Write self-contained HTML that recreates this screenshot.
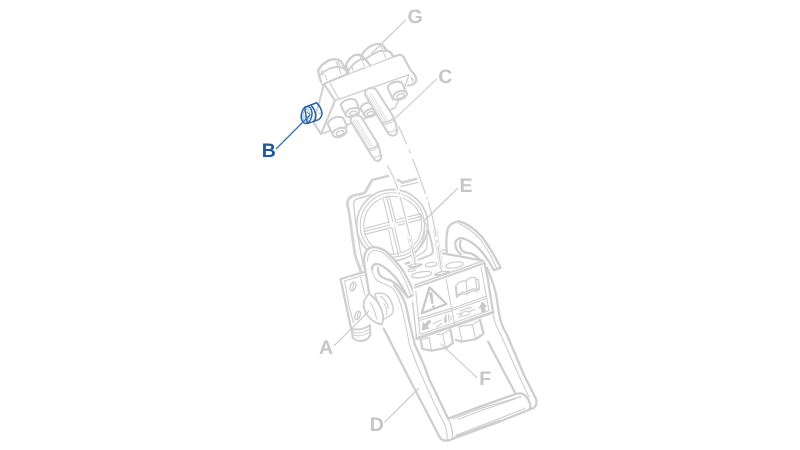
<!DOCTYPE html>
<html>
<head>
<meta charset="utf-8">
<title>Diagram</title>
<style>
html,body{margin:0;padding:0;background:#fff;}
body{width:800px;height:450px;overflow:hidden;}
svg{display:block;will-change:transform;}
text{text-rendering:geometricPrecision;}
.kk{fill:none;stroke:#d4d4d4;stroke-width:2.8;stroke-linecap:round;stroke-linejoin:round;}
.k{fill:none;stroke:#cecece;stroke-width:2.25;stroke-linecap:round;stroke-linejoin:round;}
.n{fill:none;stroke:#d0d0d0;stroke-width:2.05;stroke-linecap:round;stroke-linejoin:round;}
.m{fill:none;stroke:#cfcfcf;stroke-width:1.4;stroke-linecap:round;stroke-linejoin:round;}
.t{fill:none;stroke:#cecece;stroke-width:1.1;stroke-linecap:round;stroke-linejoin:round;}
.w{fill:#fff;}
.ld{fill:none;stroke:#cbcbcb;stroke-width:1.15;}
.dd{fill:none;stroke:#cecece;stroke-width:1.15;stroke-dasharray:22 3.5 2 3.5;}
.g{fill:#c8c8c8;stroke:none;}
.b{fill:none;stroke:#1f64a8;stroke-width:1.5;stroke-linecap:round;stroke-linejoin:round;}
.bt{fill:none;stroke:#1f64a8;stroke-width:0.8;stroke-linecap:round;}
text{font-family:"Liberation Sans",Arial,sans-serif;font-weight:bold;font-size:19.5px;fill:#c6c6c6;}
text.bl{fill:#1b5a9e;}
</style>
</head>
<body>
<svg width="800" height="450" viewBox="0 0 800 450">
<rect width="800" height="450" fill="#fff"/>

<!-- ===== MANIFOLD BLOCK ===== -->
<g id="block">
<path class="n" d="M324,84 L313.6,122.6 L321,134 L335,100.6 Z"/>
<path class="t" d="M330,83 L338.6,98.6"/>
<path class="k" d="M322,84.4 L350,73 L393,56.6 L399,55 Q402,54.6 403.4,56.8 L410,69 L412,72 Q415.6,74.6 416.4,80 Q416,84.4 408,85.6"/>
<path class="m" d="M335,100.6 L409,74.6 L404.6,87.6 L395,108 L321,134"/>
<path class="t" d="M410.6,77 L412.6,80.6 M412,78 Q413.6,79 413,81.6"/>
</g>

<!-- G cylinders (domed hex fittings) -->
<g id="gcyl">
<!-- cyl 3 -->
<path class="w" d="M362,54 Q366,46 376,44 Q382.6,43.4 385,48 L388,51.6 L391,52.6 L393,56.6 L364,68 Z"/>
<path class="k" d="M362,54.6 Q366,47 376,44 Q382.4,43 385,48 Q387,51.4 391,52.6 L393,56.6"/>
<path class="n" d="M364,60 Q370,55.6 379,51.2 Q383,50.4 386.6,51"/>
<path class="t" d="M380.6,45.6 L383,51 M382.6,45 L385,50.4 M383.6,52.6 L385.6,57.6"/>
<!-- cyl 2 -->
<path class="w" d="M345.6,65 Q348,58.6 354,55.4 Q360,53.6 363,57 L370,64.6 L349,73.6 Z"/>
<path class="k" d="M345.8,65.6 Q348,58.8 354,55.4 Q360,53.4 363,57 Q366,60 370,65"/>
<path class="n" d="M349,70 Q352,64 360,59.6 Q363.6,58.6 366.6,60.6"/>
<path class="t" d="M359.6,55.6 L362,60.6 M361.4,55 L363.8,60 M362.6,62 L364.4,66.6 M351.6,66.6 L353.6,71"/>
<path class="k" d="M345.8,65.6 L348.6,73.4"/>
<!-- cyl 1 -->
<path class="w" d="M318,71 Q321,64 329,60.4 Q337,57.6 341,61.4 Q343,64 347,72.6 L321.6,84 Z"/>
<path class="k" d="M321,82 L318,71 Q321,64 329,60.4 Q337,57.6 341,61.4 Q343.6,65 347,72.6"/>
<path class="n" d="M321,74.4 Q325,70 333,67.4 Q340,66 345,69"/>
<path class="t" d="M336,62 L338.4,67 M337.8,61.4 L340.2,66.4 M339,68.6 L341,74 M321.6,70 L323,75 M325,75 L327,80"/>
</g>

<!-- small cylinders on front face -->
<g id="scyl">
<!-- S3 -->
<path class="n w" d="M387.6,87.4 Q389.6,82.6 397,81.6 Q402,81.6 402.6,84 L406.6,94 L393,99.6 Z"/>
<g transform="rotate(-20 400 95.4)"><ellipse class="n w" cx="400" cy="95.4" rx="7.2" ry="4.2"/><ellipse class="m" cx="400.3" cy="96.2" rx="4" ry="2.1"/></g>
<!-- S2 -->
<path class="n w" d="M360.6,108 Q362,103.6 368,102.4 Q374,102.4 375,105 L377,111 L365,116.6 Z"/>
<g transform="rotate(-20 370 113)"><ellipse class="n w" cx="370" cy="113" rx="6" ry="3.7"/><ellipse class="m" cx="370.3" cy="113.7" rx="3.3" ry="1.8"/></g>
<!-- S1 -->
<path class="n w" d="M340.6,105 Q342.4,100.4 350,99 Q355.6,98.8 356.2,101.2 L359.6,110 L345.6,115 Z"/>
<g transform="rotate(-20 352.6 112.6)"><ellipse class="n w" cx="352.6" cy="112.6" rx="7.2" ry="4.2"/><ellipse class="m" cx="352.9" cy="113.4" rx="3.8" ry="2"/></g>
<!-- S4 -->
<path class="n w" d="M327.6,124 Q329.6,118.6 337,116.8 Q343,116.4 343.8,119.2 L347,126.4 L332.6,134 Z"/>
<g transform="rotate(-20 339.6 132.4)"><ellipse class="n w" cx="339.6" cy="132.4" rx="7.4" ry="4.3"/><ellipse class="m" cx="339.9" cy="133.2" rx="4" ry="2.1"/></g>
</g>

<!-- pins -->
<g id="pins">
<!-- pin 2 (right, big) -->
<path class="n w" d="M365,94.6 Q364.6,90 369,88.4 Q374,87.2 376.4,90 L394,117.6 Q396,123 397.2,131 Q396.8,135.4 392.8,135.8 Q389.6,135.4 388.4,133.4 L381.4,122.4 Z"/>
<path class="m" d="M381.4,122.4 Q389,123 394,117.6"/>
<path class="t" d="M382.4,124.2 Q389.6,124.8 394.6,119.6"/>
<path class="t" d="M387.8,131.8 Q393,132.6 396.8,128.8"/>
<path class="t" style="stroke-width:0.8;stroke:#d6d6d6" d="M367.2,95 L383.6,121.6 M369.2,94.2 L385.4,120.8 M371.2,93.4 L387,120"/>
<g transform="translate(0.8,-0.2)">
<!-- pin 1 (left) -->
<path class="n w" d="M349.6,121 Q349.6,117 354,115.8 Q358.6,115 360.2,117 L377,144 Q379,150 380.4,157 Q380,160.8 376.8,161.2 Q374.4,161 373.4,159.4 L366.6,149 Z"/>
<path class="m" d="M366.6,149 Q373,150 377,144"/>
<path class="t" d="M367.4,150.8 Q373.6,151.8 377.6,146"/>
<path class="t" d="M372.8,157.6 Q377,158 380,154.8"/>
<path class="t" style="stroke-width:0.8;stroke:#d6d6d6" d="M351.8,121 L367.8,147.6 M353.8,120.4 L369.8,147 M355.6,119.6 L371.6,146.2"/>
</g>
</g>

<!-- ===== E BRACKET ===== -->
<g id="ebracket">
<path class="kk" d="M361,272 L358.6,265 L355,255 L349,212 L347.4,205 Q347,198 353,195.6 L363.6,193.4 Q365,193 365.8,191.4 L372,180 L388,176"/>
<path class="kk" d="M398,180 L402.4,182.6 L416,179"/>
<path class="m" d="M401,186.4 L418,182.4"/>
<path class="m" d="M363.6,267 L360.6,252 L356,225 L353.6,204 Q353.6,200.6 356.6,199 L371,195"/>
<circle class="m" style="stroke-width:1.6" cx="392.3" cy="225" r="35.6"/>
<circle class="t" cx="392.4" cy="225" r="32.2"/>
<circle class="t" cx="392.7" cy="225.2" r="29"/>
<!-- cross -->
<path class="t" d="M365,228.6 L389,222 M364,231.6 L390,225 M364.4,234.6 L391,227.6"/>
<path class="t" d="M396,220 L420.6,213.6 M397,222.8 L421,216.4 M398,225.4 L421.4,219.4"/>
<path class="t" d="M383.4,199.4 L389,223 M386.4,196 L393,222 M389,195.6 L396,223"/>
<path class="t" d="M388.6,230 L394,255 M392,228 L398.6,255.6 M394.6,227 L400.4,252"/>
<!-- depth arcs at right / bottom right -->
<path class="m" d="M424.6,229 Q425,244 412,256"/>
<path class="t" d="M426.6,231 Q427.6,243 426.6,248.6 Q424,253 416,256.6"/>
<path class="n" d="M428,229.6 Q432,243 433,250.4 Q433.2,254 429,255.6 L419,259.6"/>
<path class="t" d="M420.6,214 Q426,224 428,229.6"/>
</g>

<!-- ===== BOX TOP & HOLES ===== -->
<g id="boxtop">
<path class="k" d="M443,253.4 L483,260.6"/>
<path class="t" d="M441.6,251 Q443,249 446,250.6"/>
<path class="k" d="M408.6,266.2 Q414,268.6 421.6,264.6" />
<path class="t" d="M408.6,266 Q413,262.6 421.4,264.4"/>
<ellipse class="t" cx="431" cy="264.6" rx="5.8" ry="2.1" transform="rotate(-8 431 264.6)"/>
<ellipse class="t" cx="454.4" cy="265" rx="9" ry="2.8" transform="rotate(-9 454.4 265)"/>
<ellipse class="t" cx="421.6" cy="274.6" rx="10" ry="2.8" transform="rotate(-9 421.6 274.6)"/>
<path class="k" d="M435,274.6 Q441,276.6 448.6,271.6"/>
<path class="t" d="M435,274.4 Q439,271 448.4,271.4"/>
<ellipse class="t" cx="411.6" cy="270.2" rx="3.6" ry="1.3" transform="rotate(-9 411.6 270.2)"/>
<path class="k" d="M405.6,263.6 L409.6,262.4"/>
</g>

<!-- dash-dot guide lines -->
<path d="M401,131 C407,144 412,157 418,173 C423,187 429,203 432,215 C433.4,221 434.6,227 435.6,233" fill="none" stroke="#fff" stroke-width="3.4"/>
<path d="M389,168 C396,182 400,196 404,210 C408,226 411,242 413,254" fill="none" stroke="#fff" stroke-width="3.4"/>
<path d="M435,229 C436.6,238 438.6,252 441,268" fill="none" stroke="#dedede" stroke-width="4.4"/>
<path d="M435,229 C436.6,238 438.6,252 441.2,269.4" fill="none" stroke="#fff" stroke-width="2.8"/>
<path d="M409.4,236 C411,244 412.6,252 414.6,261.4" fill="none" stroke="#dedede" stroke-width="4.4"/>
<path d="M409.4,236 C411,244 412.6,252 414.8,262.6" fill="none" stroke="#fff" stroke-width="2.8"/>
<path class="dd" style="stroke-dasharray:20 5.5 4.5 5.5 38 2.5 3 2.5 36 3 3 3 60" d="M398.5,126 C407,144 412,157 418,173 C423,187 429,203 432,215 C435,228 438.6,250 441.6,272"/>
<path class="dd" style="stroke-dasharray:26.5 2.5 2.5 2.5 40 3 3 3 60" d="M387.5,165.5 C394,177 398,188 400,197 C404,210 409,232 412,248 C413.4,254 414.6,260 415.6,265"/>

<!-- ===== PLATE A (left bracket plate) ===== -->
<g id="plateA">
<path class="k" d="M364,272 L340.6,279 L345,300 L351,328"/>
<path class="t" d="M364,275 L344.6,281 L349,306 L353.6,323"/>
<path class="t" d="M360.6,277.6 L365,295"/>
<ellipse class="m" cx="353" cy="286.4" rx="2.6" ry="4.4" transform="rotate(22 353 286.4)"/>
<path class="t" d="M353.6,283.6 L352.6,289"/>
<ellipse class="m" cx="357.6" cy="315.4" rx="2.4" ry="4.4" transform="rotate(22 357.6 315.4)"/>
<path class="t" d="M358.2,312.6 L357.2,318"/>
<!-- nipple below -->
<path class="n w" d="M351.6,329 L352.6,337 Q355,341 361,341 Q368,340.4 370.4,335 L370,325 Q362,331 351.6,329 Z"/>
<path class="t" d="M352,332 Q361,335 370.2,328.6 M352.4,334.8 Q361,338 370.4,331.6"/>
</g>

<!-- ===== RIGHT HOOK ===== -->
<g id="righthook">
<path class="k" d="M447,254 Q445.4,240 447.6,229 Q450,222.6 458.6,221.4 Q469,223 482,237 Q491,248.6 500.6,267.6 L494,270.2 Q487,257 478,247.6 Q470,240.4 462,238.2 Q456.6,238 455.2,243 Q455.4,251 461,254.4"/>
<path class="t" d="M459,223.6 Q470,228.6 480,239 Q488,249 496.6,268"/>
<path class="k" d="M460.6,241 Q458.6,246 462,250.6 Q465.6,253.6 470,253.2 Q475,254.6 480,259.6"/>
</g>

<!-- ===== BOX RIGHT EDGE / RIGHT ARM ===== -->
<g id="rightarm">
<path class="k" d="M487,268 Q491,277 493.6,285 Q496.6,295 497.4,303 Q498.4,312 501,322 Q503,328 507,335 L524,375 L536,399 Q537.6,404.6 534,408 L529,409.8 L500,421.4 L449,440.2"/>
<path class="t" d="M493,315 Q494.6,321 496,325 Q498,330 501,335 L518.6,375 L529,397"/>
<path class="k" d="M488,341.6 L505.6,375 L515.6,393.6"/>
<!-- bar -->
<path class="k" d="M448,418.6 L480,406.6 L515.6,394 Q520,392.4 524,394.4 Q528.6,398 530.4,405 Q530.8,408 529,409.8"/>
<path class="t" d="M453,419 L480,408.6 L521,396.6 M458,419.6 L480,411 L515,399"/>
<path class="t" d="M456,435.2 L500,418.2 L525,408.6 M455,436.8 L500,420"/>
<path class="m" d="M448.6,419 Q451.6,426 452.4,432 Q452.8,437 452,439.6"/>
</g>

<!-- ===== LEFT HOOK / LEFT ARM ===== -->
<g id="lefthook">
<path class="w" d="M369,292 L366,275 L364,262 Q363.6,252 369,248.4 Q375,245 384,250 Q393,257 402,269 Q409,280 414.6,294.6 L408,297.6 L407,310 L410,325 L415,345 L424,365 L429.6,380 L448,418.6 L438,434 L410,380 L383.6,328.6 Z"/>
<path class="k" d="M369,292 L366,275 L364,262 Q363.6,252 369,248.4 Q375,245 384,250 Q393,257 402,269 Q409,280 414.6,294.6 L408,297.6 Q403,287 396,278 Q390,271 384,267 Q378.6,263.6 375,264 Q372,265.6 372,269.6"/>
<path class="k" d="M449,440.2 Q444.6,441.6 441.6,439.4 Q439.4,437.6 438,434 L410,380 L383.6,328.6"/>
<path class="t" d="M367.6,261 Q367,253.6 372,251 Q378,249 386,255 Q394,262 400,271 Q406,281 410.6,295"/>
<path class="k" d="M378,268 Q377.6,273 381,276.4 Q385,279.4 391,280.4 Q397,283.6 401,289 L407,296.6"/>
<path class="t" d="M372,269 Q372.6,277 378,281 Q384,284 391,287 Q395.6,290 398.8,299 Q401.6,306 402.8,312 L405.6,325 L409.6,345 L417,365 L423.6,380 L435,405 L445,425 Q447,431 447.2,436 L447,440"/>
<path class="k" d="M394,285 Q400,291.6 403,298 Q406,305 407,310 L410,325 L415,345 L424,365 L429.6,380 L441.6,405 L448,418.6"/>
</g>

<!-- ===== LABEL PLATE ===== -->
<g id="plate">
<path class="w" d="M413,287 L484.4,261.6 L493,312.4 L416.6,338.6 Z"/>
<path class="kk" style="stroke:#d0d0d0" d="M416.6,338.6 L493,312.4"/>
<path class="m" d="M412.6,302 L416.6,338.6"/>
<path class="t" d="M415.8,291 L420,334.4 L489,310.6 L481,267"/>
<path class="n" d="M415,287.6 L484,263.2"/>
<path class="m" d="M414.6,285 L483,260.9"/>
<path class="k" d="M484.4,262.6 L488,280 L493,312.4"/>
<path class="t" d="M446,279 L454.6,324"/>
<path class="t" d="M418,318.6 L451.6,308.4 L485.6,296.4 M418.4,320.8 L452,310.6 L486,298.8"/>
<!-- warning triangle -->
<path d="M429.6,287.4 L421.6,313.4 L446.4,304 Z" fill="none" stroke="#cacaca" stroke-width="2.35" stroke-linejoin="round"/>
<path d="M429.7,293.2 L431.9,303.4 L432.9,303.2 L431.9,292.8 Z" fill="#c8c8c8" stroke="#c8c8c8" stroke-width="1.1" stroke-linejoin="round"/>
<circle class="g" cx="433.4" cy="306.7" r="1.35"/>
<!-- book -->
<path class="t" style="stroke-width:1.3" d="M456,285.4 Q460,280.6 466,281 L467,292 Q461,291.6 457.4,296 Z M466,281 Q469.6,276.4 475.4,277.6 L477,289 Q471,288.2 467,292 M455.4,287 L456.6,297.4 Q461,293.4 467.4,294 Q471,290 477.6,291 L477.6,288.6 M477,279 L478.4,279.4 L479.6,289.6 L477.6,290"/>
<!-- arrow down-left -->
<path class="g" d="M421.8,330.4 L422.8,321.6 L425,323.8 L429,319.4 L431.4,321.6 L427.4,326.2 L429.8,328.4 Z"/>
<!-- plug/hand icon -->
<path class="t" d="M433.2,324 Q437,321.4 441.4,320 M436.4,327 L442,323.2"/>
<path class="g" d="M446.4,314.4 Q442.6,318 444.6,323 Q446.6,322.6 447.2,321.6 Q445.6,318 447,314.6 Z"/>
<path class="t" d="M448.8,314.4 Q447.8,318 449.4,321.4 M450.6,316 L451.2,319.6"/>
<!-- connector icon -->
<path class="t" d="M457,314.2 L462,313 M459,318 L461,314 Q461.4,312.6 463,312 L467.6,311 Q469,311.4 469.2,313 Q469,314.6 467.6,315 L462.6,316.2 Q461,316 461,314.4 M469,312 L475,309.2 M460,311 Q466,308 472,307.4"/>
<!-- arrow up -->
<path class="g" d="M482.2,301.2 L487.2,306.6 L484.9,307.2 L485.8,311.6 L481.6,312.6 L480.7,308.2 L478.4,308.8 Z"/>
</g>

<!-- ===== HEX NUTS F ===== -->
<g id="nuts">
<path class="k" d="M420.5,339.6 L422.5,349 L431.5,350.6 L446,348 L453,343 L450.4,329.8"/>
<path class="t" d="M429,337.6 L431.5,350.4 M442.5,334 L445.6,348"/>
<path class="t" d="M420.5,339.6 L429,337.6 M437,334.6 L442.5,334 L450.4,329.8"/>
<path class="k" d="M456,340 L462,341.6 L476,339 L483.6,333.6 L480,320"/>
<path class="t" d="M459,327 L462,340.8 M472.5,324.6 L475.6,338.4"/>
<path class="t" d="M459,326.6 L472.5,324.6 L480,320"/>
</g>

<!-- ===== KNOB A ===== -->
<g id="knobA">
<path class="m w" d="M375,294 Q380,291.6 386,294.6 Q391.6,299 393.2,308 Q393.6,312.6 391,315 L383,319.6 Z"/>
<path class="t" d="M384,303.6 Q387.6,310 386.6,315 M380,296 Q386.6,300 388.6,309"/>
<path class="n w" style="stroke-width:1.9" d="M369,293.6 Q364.4,298 363.6,304 Q363.6,310 367,315 Q371,320 375.6,322.4 Q379,324 382,324.6 Q383.6,320 383,315 Q381.6,308 378,302.6 Q374,296.6 369,293.6 Z"/>
<path class="t" d="M370,302 Q374.6,309 376.6,319"/>
</g>

<!-- ===== NUT B (blue) ===== -->
<g id="nutB">
<path class="b w" d="M304.6,107.4 L316.6,102.8 Q320.6,106 322,112.6 Q322,117.6 318.6,119.6 L307.4,123.6 Z"/>
<g transform="rotate(10 306.6 115)"><ellipse class="b w" cx="306.6" cy="115" rx="5.3" ry="8.6"/><ellipse class="bt" cx="306.2" cy="115.2" rx="3.3" ry="6.2" style="stroke-width:0.6;stroke:#5c8fc4"/></g>
<path class="b" d="M311,105.2 Q314.8,109 315.8,115 Q316,119.6 313.8,121.4"/>
<path class="bt" style="stroke-width:0.6;stroke:#5c8fc4" d="M305.6,110.6 L307,109.6 M304.4,116 L305.6,119 M307.6,119.6 L309,120.4 M318.4,106.4 L319.8,107.6 M318.8,113.6 L320.6,113"/>
<path class="bt" d="M306.6,112 L310.4,114.6"/>
</g>

<!-- leader lines -->
<path class="ld" d="M371,54 L405.8,19.8"/>
<path class="ld" d="M395.4,118.2 L436.6,79.2"/>
<path class="ld" d="M458,188 L423,222"/>
<path class="ld" d="M334,345.8 L369,311"/>
<path class="ld" d="M440.6,343.6 L477.2,377.8"/>
<path class="ld" d="M384.2,422.6 L419,388"/>
<path d="M276,149 L310,115" fill="none" stroke="#3673ae" stroke-width="1.15"/>

<!-- labels -->
<g id="labels">
<text x="415.2" y="22.7" text-anchor="middle">G</text>
<text x="445.2" y="82.6" text-anchor="middle">C</text>
<text x="466" y="191.5" text-anchor="middle">E</text>
<text x="326" y="354.2" text-anchor="middle">A</text>
<text x="485.2" y="385.2" text-anchor="middle">F</text>
<text x="376.8" y="430.8" text-anchor="middle">D</text>
<text class="bl" x="268.7" y="157" text-anchor="middle">B</text>
</g>

</svg>
</body>
</html>
